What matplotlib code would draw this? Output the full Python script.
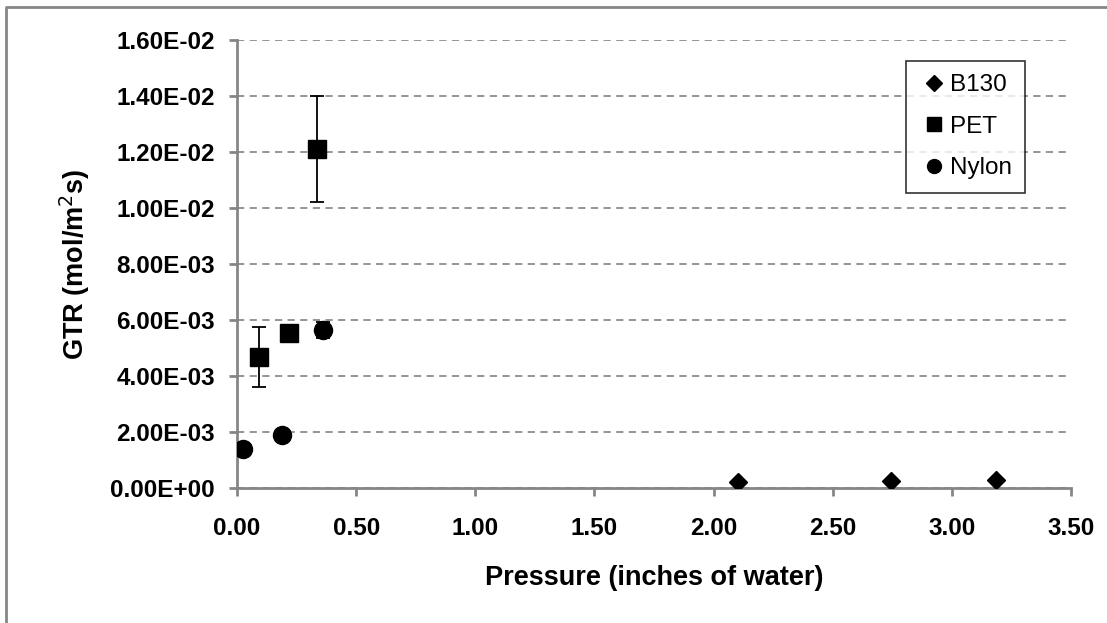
import matplotlib.pyplot as plt
from matplotlib.lines import Line2D

plt.switch_backend("Agg")

plt.rcParams['font.family'] = ['Liberation Sans', 'DejaVu Sans']
plt.rcParams['font.size'] = 12

# Data
b130_x = [2.104, 2.743, 3.185]
b130_y = [0.00021, 0.00025, 0.00029]

pet_x = [0.092, 0.217, 0.334]
pet_y = [0.00468, 0.00554, 0.0121]
pet_err = [0.00107, 0.00010, 0.0019]

nylon_x = [0.025, 0.188, 0.363]
nylon_y = [0.00139, 0.00190, 0.00564]
nylon_err = [0.00008, 0.00008, 0.00028]

x_ticks = [0.0, 0.5, 1.0, 1.5, 2.0, 2.5, 3.0, 3.5]
y_ticks = [0.0, 0.002, 0.004, 0.006, 0.008, 0.010, 0.012, 0.014, 0.016]

GRAY = "#868686"

fig = plt.figure(figsize=(11.07, 6.23), dpi=100)
ax = fig.add_axes([237 / 1107, 1 - 488 / 623, (1071 - 237) / 1107, (488 - 40) / 623])

# outer chart border (only top and left visible in the cropped original)
fig.add_artist(Line2D([6 / 1107, 6 / 1107, 1], [0, 1 - 7 / 623, 1 - 7 / 623],
                      transform=fig.transFigure, color=GRAY, linewidth=2))

ax.plot(b130_x, b130_y, linestyle="none", marker="D", markersize=9,
        color="black", zorder=3)
ax.errorbar(pet_x, pet_y, yerr=pet_err, linestyle="none", marker="s",
            markersize=13, color="black", ecolor="black", elinewidth=1.3,
            capsize=5, capthick=1.3, zorder=3)
ax.errorbar(nylon_x, nylon_y, yerr=nylon_err, linestyle="none", marker="o",
            markersize=13, color="black", ecolor="black", elinewidth=1.3,
            capsize=5, capthick=1.3, zorder=3)

ax.set_xlim(0, 3.5)
ax.set_ylim(0, 0.016)
ax.set_xticks(x_ticks)
ax.set_xticklabels([f"{v:.2f}" for v in x_ticks])
ax.set_yticks(y_ticks)
ax.set_yticklabels([f"{v:.2E}" for v in y_ticks])

ax.grid(axis="y", color="#8c8c8c", linestyle=(0, (4, 3)), linewidth=1.3)
ax.set_axisbelow(True)
for s in ["top", "right"]:
    ax.spines[s].set_visible(False)
for s in ["left", "bottom"]:
    ax.spines[s].set_color(GRAY)
    ax.spines[s].set_linewidth(2)
ax.tick_params(axis="both", colors=GRAY, length=6, width=2, labelcolor="black",
               labelsize=17.5)
ax.tick_params(axis="x", pad=15)
ax.tick_params(axis="y", pad=10)
for lbl in ax.get_xticklabels() + ax.get_yticklabels():
    lbl.set_fontweight("bold")

ax.set_xlabel("Pressure (inches of water)", fontsize=19.5, fontweight="bold", labelpad=18)
ax.set_ylabel("GTR (mol/m$^{2}$s)", fontsize=19.5, fontweight="bold", labelpad=13)

# legend shows markers only
handles = [
    Line2D([], [], linestyle="none", marker="D", markersize=8, color="black"),
    Line2D([], [], linestyle="none", marker="s", markersize=10, color="black"),
    Line2D([], [], linestyle="none", marker="o", markersize=10, color="black"),
]
labels = ["B130", "PET", "Nylon"]
leg = ax.legend(handles, labels, loc="upper left",
                bbox_to_anchor=((906 - 237) / 834, (488 - 61) / 448),
                frameon=True, fancybox=False, edgecolor="black", fontsize=17.5,
                handlelength=1.2, handletextpad=0.05, labelspacing=0.8,
                borderpad=0.55, borderaxespad=0)
leg.get_frame().set_linewidth(1.2)

plt.savefig("out.png", dpi=100)
